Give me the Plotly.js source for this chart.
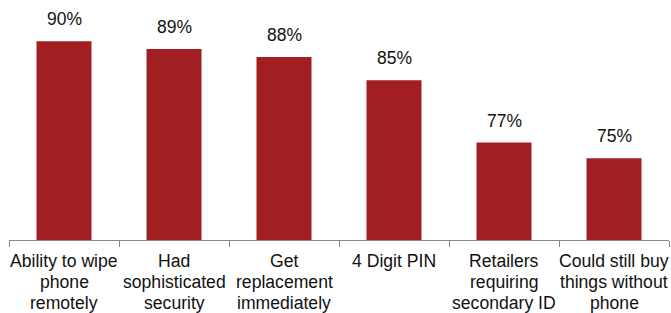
<!DOCTYPE html>
<html>
<head>
<meta charset="utf-8">
<script src="https://cdn.plot.ly/plotly-3.0.1.min.js"></script>
<style>html,body{margin:0;padding:0;background:#fff;}#chart{width:671px;height:313px;}</style>
</head>
<body>
<div id="chart"></div>
<script>
const categories = [
  "Ability to wipe<br>phone<br>remotely",
  "Had<br>sophisticated<br>security",
  "Get<br>replacement<br>immediately",
  "4 Digit PIN",
  "Retailers<br>requiring<br>secondary ID",
  "Could still buy<br>things without<br>phone"
];
const values = [90, 89, 88, 85, 77, 75];
const valueLabels = ["90%", "89%", "88%", "85%", "77%", "75%"];

const FONT = "Liberation Sans, Arial, sans-serif";
const TXT = "#111";

const trace = {
  type: "bar",
  x: categories,
  y: values,
  marker: {color: "#a11e22"},
  width: 0.5,
  hoverinfo: "none"
};

const annotations = categories.map((c, i) => ({
  x: c, y: values[i], text: valueLabels[i],
  xref: "x", yref: "y", showarrow: false,
  yanchor: "bottom", yshift: 10,
  font: {family: FONT, size: 17.5, color: TXT}
}));

// category labels drawn line by line for tighter line spacing
categories.forEach((c) => {
  c.split("<br>").forEach((line, j) => {
    annotations.push({
      x: c, y: 0, xref: "x", yref: "paper",
      text: line, showarrow: false,
      xanchor: "center", yanchor: "middle",
      yshift: -20.5 - j * 21.2,
      font: {family: FONT, size: 17.6, color: TXT}
    });
  });
});

const layout = {
  width: 671, height: 313,
  margin: {l: 9, r: 2, t: 0, b: 73},
  paper_bgcolor: "#fff", plot_bgcolor: "#fff",
  showlegend: false,
  font: {family: FONT, size: 16, color: TXT},
  xaxis: {
    type: "category",
    range: [-0.5, 5.5],
    showline: true, linecolor: "#888", linewidth: 1,
    ticks: "outside", tickson: "boundaries", ticklen: 6, tickcolor: "#888",
    showticklabels: false,
    showgrid: false, zeroline: false
  },
  yaxis: {
    range: [64.5, 95.3],
    visible: false, showgrid: false, zeroline: false
  },
  annotations: annotations
};

Plotly.newPlot("chart", [trace], layout, {displayModeBar: false, staticPlot: true});
</script>
</body>
</html>
